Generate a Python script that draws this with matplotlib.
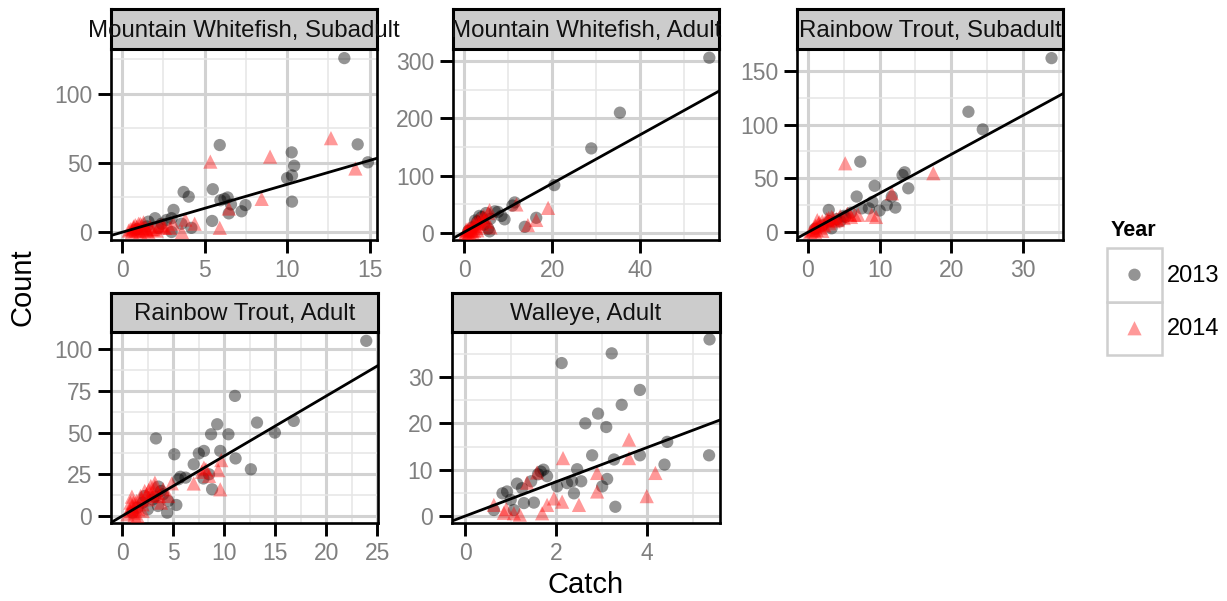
import numpy as np
import matplotlib.pyplot as plt
from matplotlib.patches import Rectangle
from matplotlib.ticker import MultipleLocator

plt.rcParams['font.family'] = ['Liberation Sans', 'DejaVu Sans']

W, H = 1227, 601

# Mountain Whitefish, Subadult
mws_13_x = [13.47, 5.92, 10.28, 10.43, 14.28, 14.9, 10.0, 10.3, 10.3, 3.73, 4.04, 5.5, 5.96, 6.4, 6.47, 7.24,
            7.48, 5.46, 3.12, 3.0, 2.0, 3.0, 2.7, 1.6, 0.9, 1.5, 2.2, 2.4, 4.2, 3.6, 6.2, 6.6]
mws_13_y = [126, 63, 57.7, 48, 63.5, 50.5, 39, 41, 22, 29, 25.6, 31, 23, 25, 13.5, 15,
            19.5, 8, 16, 10, 10, 0, 8.7, 7.5, 2, 4, 3, 6, 3, 6, 24, 20]
mws_14_x = [12.66, 8.97, 5.35, 14.14, 8.46, 6.47, 4.4, 3.83, 3.63, 5.92, 2.5, 0.4, 0.5, 0.6, 0.7, 0.8,
            0.9, 1.0, 1.1, 1.2, 1.3, 1.4, 1.5, 1.6, 1.7, 1.0, 0.8, 1.3, 2.4, 2.6, 1.9, 2.1,
            0.6, 0.9, 1.2, 1.5, 1.8, 2.2, 2.9, 3.1, 0.7, 1.1]
mws_14_y = [68, 54.6, 51, 46, 24, 17, 6, 9, 0, 3, 4, 1, 2, 0, 3, 1,
            4, 2, 0, 5, 1, 3, 2, 0, 4, 6, 5, 7, 5, 3, 2, 1,
            2, 1, 3, 1, 2, 4, 3, 6, 4, 6]

# Mountain Whitefish, Adult
mwa_13_x = [55.7, 35.4, 28.9, 20.5, 11.5, 11.0, 16.4, 13.8, 9.2, 7.7, 7.0, 6.0, 5.5, 5.0, 4.5, 4.0,
            3.5, 3.0, 2.5, 2.0, 1.0, 5.8, 8.5]
mwa_13_y = [305.8, 210, 147.7, 83.7, 53.5, 48, 26.7, 11, 24, 37, 38, 25, 8, 35, 15, 28,
            30, 20, 22, 10, 4, 3, 30]
mwa_14_x = [19.1, 16.4, 14.5, 11.9, 5.8, 0.3, 0.5, 0.8, 1.0, 1.2, 1.5, 1.8, 2.0, 2.3, 2.5, 2.8,
            3.0, 3.3, 3.6, 4.0, 4.5, 5.0, 5.5, 6.0, 1.0, 2.0, 3.0, 4.2, 0.5, 1.5, 2.2, 3.2, 4.5]
mwa_14_y = [44, 23, 14, 50, 40, 1, 3, 5, 8, 2, 10, 6, 14, 4, 18, 9,
            22, 12, 25, 16, 30, 20, 35, 10, 0, 1, 5, 27, 6, 4, 12, 18, 22]

# Rainbow Trout, Subadult
rts_13_x = [34.0, 22.4, 24.4, 7.3, 13.5, 13.2, 14.0, 9.3, 6.8, 11.0, 12.2, 11.7, 8.5, 2.9, 3.3, 5.2,
            1.0, 2.0, 3.0, 4.0, 5.0, 6.0, 4.5, 10.0, 9.0, 7.5]
rts_13_y = [162, 112, 95.6, 65.5, 55.6, 53, 40.7, 43, 33, 25, 22.7, 33, 22, 20.5, 3.4, 14,
            3, 6, 10, 12, 15, 18, 10, 20, 28, 22]
rts_14_x = [5.2, 17.5, 11.7, 8.9, 9.5, 5.9, 2.9, 1.3, 7.0, 0.5, 0.8, 1.0, 1.2, 1.5, 1.8, 2.0,
            2.3, 2.6, 3.0, 3.3, 3.6, 4.0, 4.5, 5.0, 5.5, 6.0, 6.5, 1.0, 2.0, 0.3,
            0.7, 1.1, 1.6, 2.1, 2.8, 3.5, 4.2]
rts_14_y = [64, 54.7, 36, 16, 14, 16, 13, 11, 16, 1, 3, 5, 2, 8, 4, 10,
            6, 12, 8, 14, 10, 12, 15, 13, 17, 14, 16, 0, 1, 0,
            2, 6, 9, 7, 11, 13, 11]

# Rainbow Trout, Adult
rta_13_x = [23.9, 11.04, 13.2, 16.8, 14.95, 9.3, 8.7, 10.4, 3.3, 5.1, 7.5, 8.0, 9.6, 11.1, 12.6, 7.0,
            5.7, 7.95, 8.8, 5.3, 4.4, 3.55, 3.2, 1.0, 1.5, 2.0, 2.5, 3.0, 3.5, 4.0, 4.5, 5.5,
            6.2, 2.2, 3.8, 8.5]
rta_13_y = [105, 72, 56, 57, 50, 55, 49, 49, 46.5, 37, 37.5, 39, 39, 34.5, 28, 31,
            23.5, 22.5, 16, 6.6, 2, 17.6, 11.6, 2, 5, 8, 4, 10, 6, 13, 9, 22,
            23, 12, 15, 25]
rta_14_x = [9.7, 9.4, 7.8, 8.2, 7.0, 9.6, 8.5, 8.0, 4.85, 3.2, 2.6, 0.95, 0.5, 0.8, 1.0, 1.2,
            1.4, 1.6, 1.8, 2.0, 2.2, 2.5, 2.8, 3.0, 3.5, 3.8, 4.0, 4.5, 1.5, 2.0, 0.8, 3.2,
            0.7, 1.1, 1.3, 1.9, 2.4, 2.9, 3.6, 1.2]
rta_14_y = [33.5, 27.5, 26.5, 28, 19.5, 16, 24, 29, 19.6, 17.6, 15.6, 11.6, 1, 3, 6, 2,
            9, 4, 12, 7, 15, 10, 18, 12, 14, 8, 16, 12, 0, 3, 8, 20,
            4, 8, 5, 10, 13, 14, 12, 0.5]

# Walleye, Adult
wal_13_x = [5.37, 3.22, 2.12, 3.84, 3.44, 2.92, 2.64, 3.1, 4.44, 5.36, 2.79, 3.27, 3.84, 4.38, 2.46, 3.12,
            3.01, 2.39, 3.3, 1.66, 1.8, 2.02, 2.24, 2.35, 1.14, 0.92, 0.82, 1.29, 1.51, 0.63, 1.07, 1.72,
            1.6, 1.45, 1.25, 1.0, 2.55]
wal_13_y = [38.1, 35.1, 33, 27.2, 24, 22.1, 20, 19.2, 16, 13.1, 13.1, 12.2, 13.1, 11.1, 10.1, 8,
            6.4, 4.9, 2, 9.6, 8.6, 6.4, 7.1, 7.5, 7, 5.3, 4.9, 2.8, 2.9, 1.3, 1.3, 10,
            9, 7.5, 6, 3.5, 7.5]
wal_14_x = [3.6, 3.6, 2.15, 4.18, 2.9, 2.9, 3.99, 2.5, 2.13, 1.8, 1.58, 1.36, 1.69, 1.07, 0.85, 0.63,
            1.95, 0.9, 1.2]
wal_14_y = [16.5, 12.5, 12.5, 9.3, 9.3, 5.3, 4.3, 2.4, 3.1, 2.4, 9.4, 7.2, 0.6, 0.6, 0.7, 2.4,
            3.8, 1.5, 0.3]

titles = ['Mountain Whitefish, Subadult', 'Mountain Whitefish, Adult', 'Rainbow Trout, Subadult',
          'Rainbow Trout, Adult', 'Walleye, Adult']
points_13 = [(mws_13_x, mws_13_y), (mwa_13_x, mwa_13_y), (rts_13_x, rts_13_y),
             (rta_13_x, rta_13_y), (wal_13_x, wal_13_y)]
points_14 = [(mws_14_x, mws_14_y), (mwa_14_x, mwa_14_y), (rts_14_x, rts_14_y),
             (rta_14_x, rta_14_y), (wal_14_x, wal_14_y)]
# fitted line per panel: (slope, intercept)
fits = [(3.47, -0.2), (4.25, 1.5), (3.63, -0.3), (3.6, 0.0), (3.7, 0.0)]
x_steps = [5, 20, 10, 5, 2]
y_steps = [50, 100, 50, 25, 10]
x_limits = [(-0.67, 15.45), (-2.5, 57.9), (-1.53, 35.6), (-1.1, 25.05), (-0.29, 5.6)]
y_limits = [(-5.8, 132.6), (-12.0, 321), (-7.5, 170.5), (-4.2, 110.3), (-1.5, 39.7)]

# pixel boxes (left, top, right, bottom) for panels and strips
panel_px = [(111, 49, 377, 240), (453, 49, 719, 240), (797, 49, 1063, 240),
            (111, 332, 378, 523), (452, 332, 720, 523)]
strip_px = [(111, 9, 377, 49), (453, 9, 719, 49), (797, 9, 1063, 49),
            (111, 293, 378, 332), (452, 293, 720, 332)]


def fig_rect(box):
    l, t, r, b = box
    return [l / W, 1 - b / H, (r - l) / W, (b - t) / H]


fig = plt.figure(figsize=(W / 100, H / 100), dpi=100)

for i in range(5):
    ax = fig.add_axes(fig_rect(panel_px[i]))
    ax.set_facecolor('white')
    ax.set_xlim(*x_limits[i])
    ax.set_ylim(*y_limits[i])
    ax.xaxis.set_major_locator(MultipleLocator(x_steps[i]))
    ax.yaxis.set_major_locator(MultipleLocator(y_steps[i]))
    ax.xaxis.set_minor_locator(MultipleLocator(x_steps[i] / 2))
    ax.yaxis.set_minor_locator(MultipleLocator(y_steps[i] / 2))
    ax.grid(which='major', color='#d2d2d2', lw=2.2)
    ax.grid(which='minor', color='#e6e6e6', lw=1.1)
    ax.set_axisbelow(True)
    ax.tick_params(which='major', direction='out', length=9.5, width=2.1, color='black',
                   labelsize=16.5, labelcolor='#7f7f7f', pad=4)
    ax.tick_params(which='minor', length=0)
    for sp in ax.spines.values():
        sp.set_linewidth(1.9)
        sp.set_color('black')

    x13, y13 = points_13[i]
    x14, y14 = points_14[i]
    ax.scatter(x13, y13, s=78, marker='o', color='black', alpha=0.42, edgecolors='none', zorder=3)
    ax.scatter(x14, y14, s=105, marker='^', color='red', alpha=0.4, edgecolors='none', zorder=3)
    slope, icpt = fits[i]
    ax.axline((0, icpt), slope=slope, color='black', lw=2.0, zorder=4)

    sax = fig.add_axes(fig_rect(strip_px[i]))
    sax.set_facecolor('#cccccc')
    sax.set_xticks([])
    sax.set_yticks([])
    for sp in sax.spines.values():
        sp.set_linewidth(2.2)
        sp.set_color('black')
    sax.text(0.5, 0.45, titles[i], ha='center', va='center', fontsize=17.3,
             color='#111111', transform=sax.transAxes, clip_on=False)

# axis titles
fig.text(23 / W, 1 - 287 / H, 'Count', rotation=90, ha='center', va='center', fontsize=21)
fig.text(586 / W, 1 - 585 / H, 'Catch', ha='center', va='center', fontsize=21)

# legend
fig.text(1111 / W, 1 - 230 / H, 'Year', ha='left', va='center', fontsize=15.5, fontweight='bold')
lax = fig.add_axes(fig_rect((1107, 248, 1162, 355)))
lax.set_xlim(0, 1)
lax.set_ylim(0, 2)
lax.axis('off')
for k in range(2):
    lax.add_patch(Rectangle((0, k), 1, 1, facecolor='white', edgecolor='#cfcfcf', lw=1.8, clip_on=False))
lax.scatter([0.5], [1.5], s=78, marker='o', color='black', alpha=0.42, edgecolors='none')
lax.scatter([0.5], [0.5], s=105, marker='^', color='red', alpha=0.4, edgecolors='none')
fig.text(1167 / W, 1 - 276 / H, '2013', ha='left', va='center', fontsize=17)
fig.text(1167 / W, 1 - 329 / H, '2014', ha='left', va='center', fontsize=17)

fig.savefig('out.png', dpi=100)
